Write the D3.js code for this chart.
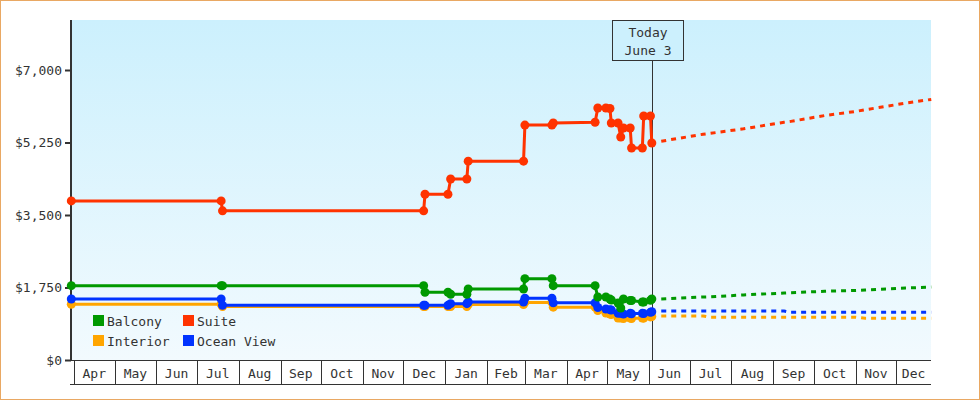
<!DOCTYPE html>
<html>
<head>
<meta charset="utf-8">
<script src="https://cdn.jsdelivr.net/npm/d3@7"></script>
<style>
body { margin: 0; background: #fff; }
svg { display: block; }
text { font-family: 'DejaVu Sans Mono', monospace; font-size: 13px; fill: #333; }
</style>
</head>
<body>
<script>
// price history (sampled dates)
const dates = ['2018-03-30','2018-07-19','2018-07-20','2018-12-16','2018-12-17','2019-01-03','2019-01-05',
    '2019-01-17','2019-01-18','2019-02-28','2019-03-01','2019-03-21','2019-03-22','2019-04-22','2019-04-24',
    '2019-04-30','2019-05-03','2019-05-04','2019-05-09','2019-05-11','2019-05-13','2019-05-18','2019-05-19',
    '2019-05-27','2019-05-28','2019-06-02','2019-06-03'];
const balcony = [1794,1794,1794,1794,1634,1634,1586,1586,1714,1714,1963,1963,1794,1794,1520,1520,1470,1448,1376,1255,1472,1436,1436,1400,1400,1440,1472];
const suite = [3840,3840,3600,3600,4000,4000,4370,4370,4800,4800,5670,5670,5720,5740,6083,6083,6070,5720,5720,5383,5600,5600,5117,5117,5890,5890,5238];
const interior = [1345,1345,1290,1290,1290,1290,1290,1290,1340,1340,1390,1390,1275,1275,1195,1134,1110,1098,1014,1014,1002,1014,1002,1014,1010,1040,1050];
const oceanView = [1472,1472,1320,1320,1320,1320,1360,1360,1400,1400,1490,1490,1380,1380,1267,1231,1215,1207,1127,1127,1110,1127,1115,1127,1120,1150,1166];

// forecast
const forecastDates = ['2019-06-10','2019-07-11','2019-07-16','2019-08-10','2019-09-09','2019-09-14',
    '2019-10-09','2019-11-01','2019-11-08','2019-12-08','2019-12-27'];
const balconyForecast = [1470,1520,1525,1570,1617,1625,1658,1680,1690,1738,1760];
const suiteForecast = [5280,5450,5470,5580,5740,5760,5900,6000,6040,6200,6290];
const interiorForecast = [1062,1062,1031,1031,1031,1031,1031,1031,1007,1007,1007];
const oceanViewForecast = [1183,1183,1183,1183,1183,1151,1151,1151,1151,1151,1151];

const yTicks = [0, 1750, 3500, 5250, 7000];
const todayDate = '2019-06-03';
const todayLabel = ['Today', 'June 3'];

const parse = d3.timeParse('%Y-%m-%d');

const series = [
    { name: 'Interior', color: '#ffa500', hist: interior, fc: interiorForecast },
    { name: 'Ocean View', color: '#0033ff', hist: oceanView, fc: oceanViewForecast },
    { name: 'Balcony', color: '#009900', hist: balcony, fc: balconyForecast },
    { name: 'Suite', color: '#ff3300', hist: suite, fc: suiteForecast }
];
const legendOrder = ['Balcony', 'Suite', 'Interior', 'Ocean View'];

const W = 980, H = 400;
const plot = { left: 71, right: 931, top: 20, bottom: 360 };

const svg = d3.select('body').append('svg')
    .attr('width', W)
    .attr('height', H);

// GRADIENT
const grad = svg.append('defs').append('linearGradient')
    .attr('id', 'bg').attr('x1', 0).attr('y1', 0).attr('x2', 0).attr('y2', 1);
grad.append('stop').attr('offset', '0%').attr('stop-color', '#ccf0fd');
grad.append('stop').attr('offset', '100%').attr('stop-color', '#f2fafe');

svg.append('rect')
    .attr('x', 0.5).attr('y', 0.5)
    .attr('width', W - 1).attr('height', H - 1)
    .attr('fill', '#fff')
    .attr('stroke', '#e9a863');

svg.append('rect')
    .attr('x', plot.left).attr('y', plot.top)
    .attr('width', plot.right - plot.left)
    .attr('height', plot.bottom - plot.top)
    .attr('fill', 'url(#bg)');

// SCALES
const xScale = d3.scaleTime()
    .domain([new Date(2018, 3, 1), new Date(2020, 0, 1)])
    .range([74, 938]);

const yScale = d3.scaleLinear()
    .domain([0, 7000])
    .range([plot.bottom, 70]);

// Y AXIS
const yAxis = d3.axisLeft(yScale)
    .tickValues(yTicks)
    .tickSize(6)
    .tickPadding(3)
    .tickFormat(d => '$' + d3.format(',')(d));

const gy = svg.append('g')
    .attr('transform', 'translate(' + plot.left + ',0)')
    .call(yAxis);
gy.select('.domain').remove();
gy.selectAll('line').attr('stroke', '#333').attr('stroke-width', 2);
gy.selectAll('text').attr('font-family', null).attr('font-size', null).attr('fill', '#333');

svg.append('line')
    .attr('x1', plot.left).attr('x2', plot.left)
    .attr('y1', plot.top).attr('y2', plot.bottom + 1)
    .attr('stroke', '#333').attr('stroke-width', 2);

// X AXIS (month boxes)
const months = d3.timeMonth.range(new Date(2018, 3, 1), new Date(2020, 0, 1));
const gx = svg.append('g');
gx.append('line')
    .attr('x1', 70).attr('x2', plot.right)
    .attr('y1', plot.bottom + 0.5).attr('y2', plot.bottom + 0.5)
    .attr('stroke', '#333');
gx.append('line')
    .attr('x1', 70).attr('x2', plot.right)
    .attr('y1', 384.5).attr('y2', 384.5)
    .attr('stroke', '#333');

months.forEach(function(m) {
    const x0 = xScale(m);
    const x1 = Math.min(xScale(d3.timeMonth.offset(m, 1)), plot.right);
    gx.append('line')
        .attr('x1', Math.round(x0) + 0.5).attr('x2', Math.round(x0) + 0.5)
        .attr('y1', plot.bottom).attr('y2', 385)
        .attr('stroke', '#333');
    gx.append('text')
        .attr('x', (x0 + x1) / 2)
        .attr('y', 378)
        .attr('text-anchor', 'middle')
        .text(d3.timeFormat('%b')(m));
});

// TODAY MARKER
const tx = Math.round(xScale(parse(todayDate))) + 0.5;
svg.append('line')
    .attr('x1', tx).attr('x2', tx)
    .attr('y1', 60).attr('y2', plot.bottom)
    .attr('stroke', '#333');
svg.append('rect')
    .attr('x', 612.5).attr('y', 20.5)
    .attr('width', 71).attr('height', 40)
    .attr('fill', '#ccf0fd')
    .attr('stroke', '#333');
todayLabel.forEach(function(t, i) {
    svg.append('text')
        .attr('x', 648)
        .attr('y', 37 + i * 18)
        .attr('text-anchor', 'middle')
        .text(t);
});

// LINES
const line = d3.line()
    .x(d => xScale(d.date))
    .y(d => yScale(d.value));

series.forEach(function(s) {
    const hist = dates.map((d, i) => ({ date: parse(d), value: s.hist[i] }));
    const fc = forecastDates.map((d, i) => ({ date: parse(d), value: s.fc[i] }));

    svg.append('path')
        .datum(fc)
        .attr('d', line)
        .attr('fill', 'none')
        .attr('stroke', s.color)
        .attr('stroke-width', 3)
        .attr('stroke-dasharray', '5,5');

    svg.append('path')
        .datum(hist)
        .attr('d', line)
        .attr('fill', 'none')
        .attr('stroke', s.color)
        .attr('stroke-width', 3);

    svg.append('g').selectAll('circle')
        .data(hist)
        .enter()
        .append('circle')
        .attr('cx', d => xScale(d.date))
        .attr('cy', d => yScale(d.value))
        .attr('r', 4.5)
        .attr('fill', s.color);
});

// LEGEND
const legend = svg.append('g');
legendOrder.forEach(function(name, i) {
    const s = series.find(d => d.name === name);
    const lx = 93 + (i % 2) * 90;
    const ly = 315 + Math.floor(i / 2) * 20;
    legend.append('rect')
        .attr('x', lx).attr('y', ly)
        .attr('width', 11).attr('height', 11)
        .attr('fill', s.color);
    legend.append('text')
        .attr('x', lx + 14)
        .attr('y', ly + 11)
        .text(name);
});
</script>
</body>
</html>
